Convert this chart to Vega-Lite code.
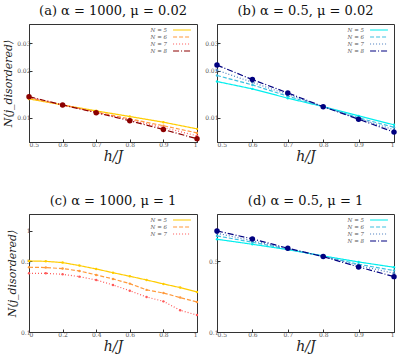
{
  "$schema": "https://vega.github.io/schema/vega-lite/v6.json",
  "padding": {"left": 2, "top": 4, "right": 2, "bottom": 2},
  "config": {
    "font": "DejaVu Serif",
    "view": {"stroke": "#333", "strokeWidth": 1},
    "axis": {"grid": false, "labelFont": "DejaVu Serif", "labelFontSize": 6, "labelColor": "#555", "labelPadding": 2, "labelOverlap": false, "tickSize": -3, "tickColor": "#333", "domainColor": "#333", "titleFont": "DejaVu Serif", "titleFontStyle": "italic", "titleFontWeight": "normal", "titleFontSize": 14, "titleColor": "#222", "format": "~g"},
    "axisX": {"titlePadding": 2},
    "axisY": {"titleFontSize": 11, "titlePadding": 3},
    "title": {"font": "DejaVu Serif", "fontSize": 13, "fontWeight": "normal", "color": "#111", "offset": 6},
    "legend": {"orient": "top-right", "offset": 3, "title": null, "labelFont": "DejaVu Serif", "labelFontStyle": "italic", "labelFontSize": 5.5, "labelColor": "#555", "symbolType": "M-4,0H4", "symbolSize": 20, "symbolStrokeWidth": 1.2, "rowPadding": 0, "padding": 0, "labelAlign": "right", "labelOffset": -18}
  },
  "datasets": {
    "a": [
      {"h": 0.5, "v": 0.01323, "N": "N = 5"}, {"h": 0.6, "v": 0.0121, "N": "N = 5"}, {"h": 0.7, "v": 0.01109, "N": "N = 5"}, {"h": 0.8, "v": 0.0102, "N": "N = 5"}, {"h": 0.9, "v": 0.00938, "N": "N = 5"}, {"h": 1.0, "v": 0.0085, "N": "N = 5"},
      {"h": 0.5, "v": 0.0134, "N": "N = 6"}, {"h": 0.6, "v": 0.0121, "N": "N = 6"}, {"h": 0.7, "v": 0.0109, "N": "N = 6"}, {"h": 0.8, "v": 0.00985, "N": "N = 6"}, {"h": 0.9, "v": 0.0089, "N": "N = 6"}, {"h": 1.0, "v": 0.008, "N": "N = 6"},
      {"h": 0.5, "v": 0.0136, "N": "N = 7"}, {"h": 0.6, "v": 0.0121, "N": "N = 7"}, {"h": 0.7, "v": 0.01085, "N": "N = 7"}, {"h": 0.8, "v": 0.0097, "N": "N = 7"}, {"h": 0.9, "v": 0.00867, "N": "N = 7"}, {"h": 1.0, "v": 0.00767, "N": "N = 7"},
      {"h": 0.5, "v": 0.01368, "N": "N = 8"}, {"h": 0.6, "v": 0.0121, "N": "N = 8"}, {"h": 0.7, "v": 0.0108, "N": "N = 8"}, {"h": 0.8, "v": 0.00957, "N": "N = 8"}, {"h": 0.9, "v": 0.00842, "N": "N = 8"}, {"h": 1.0, "v": 0.00734, "N": "N = 8"}
    ],
    "b": [
      {"h": 0.5, "v": 0.0171, "N": "N = 5"}, {"h": 0.6, "v": 0.01534, "N": "N = 5"}, {"h": 0.7, "v": 0.01337, "N": "N = 5"}, {"h": 0.8, "v": 0.0118, "N": "N = 5"}, {"h": 0.9, "v": 0.0103, "N": "N = 5"}, {"h": 1.0, "v": 0.00902, "N": "N = 5"},
      {"h": 0.5, "v": 0.0187, "N": "N = 6"}, {"h": 0.6, "v": 0.01627, "N": "N = 6"}, {"h": 0.7, "v": 0.01377, "N": "N = 6"}, {"h": 0.8, "v": 0.0118, "N": "N = 6"}, {"h": 0.9, "v": 0.01, "N": "N = 6"}, {"h": 1.0, "v": 0.0087, "N": "N = 6"},
      {"h": 0.5, "v": 0.0202, "N": "N = 7"}, {"h": 0.6, "v": 0.0169, "N": "N = 7"}, {"h": 0.7, "v": 0.0141, "N": "N = 7"}, {"h": 0.8, "v": 0.0118, "N": "N = 7"}, {"h": 0.9, "v": 0.0099, "N": "N = 7"}, {"h": 1.0, "v": 0.00838, "N": "N = 7"},
      {"h": 0.5, "v": 0.0218, "N": "N = 8"}, {"h": 0.6, "v": 0.0176, "N": "N = 8"}, {"h": 0.7, "v": 0.01445, "N": "N = 8"}, {"h": 0.8, "v": 0.0118, "N": "N = 8"}, {"h": 0.9, "v": 0.0098, "N": "N = 8"}, {"h": 1.0, "v": 0.0081, "N": "N = 8"}
    ],
    "c": [
      {"h": 0.0, "v": 0.505, "N": "N = 5"}, {"h": 0.1, "v": 0.5, "N": "N = 5"}, {"h": 0.2, "v": 0.486, "N": "N = 5"}, {"h": 0.3, "v": 0.454, "N": "N = 5"}, {"h": 0.4, "v": 0.42, "N": "N = 5"}, {"h": 0.5, "v": 0.386, "N": "N = 5"}, {"h": 0.6, "v": 0.356, "N": "N = 5"}, {"h": 0.7, "v": 0.327, "N": "N = 5"}, {"h": 0.8, "v": 0.299, "N": "N = 5"}, {"h": 0.9, "v": 0.275, "N": "N = 5"}, {"h": 1.0, "v": 0.249, "N": "N = 5"},
      {"h": 0.0, "v": 0.437, "N": "N = 6"}, {"h": 0.1, "v": 0.434, "N": "N = 6"}, {"h": 0.2, "v": 0.424, "N": "N = 6"}, {"h": 0.3, "v": 0.402, "N": "N = 6"}, {"h": 0.4, "v": 0.367, "N": "N = 6"}, {"h": 0.5, "v": 0.335, "N": "N = 6"}, {"h": 0.6, "v": 0.301, "N": "N = 6"}, {"h": 0.7, "v": 0.261, "N": "N = 6"}, {"h": 0.8, "v": 0.243, "N": "N = 6"}, {"h": 0.9, "v": 0.219, "N": "N = 6"}, {"h": 1.0, "v": 0.198, "N": "N = 6"},
      {"h": 0.0, "v": 0.381, "N": "N = 7"}, {"h": 0.1, "v": 0.381, "N": "N = 7"}, {"h": 0.2, "v": 0.372, "N": "N = 7"}, {"h": 0.3, "v": 0.353, "N": "N = 7"}, {"h": 0.4, "v": 0.327, "N": "N = 7"}, {"h": 0.5, "v": 0.292, "N": "N = 7"}, {"h": 0.6, "v": 0.256, "N": "N = 7"}, {"h": 0.7, "v": 0.222, "N": "N = 7"}, {"h": 0.8, "v": 0.201, "N": "N = 7"}, {"h": 0.9, "v": 0.164, "N": "N = 7"}, {"h": 1.0, "v": 0.147, "N": "N = 7"}
    ],
    "d": [
      {"h": 0.5, "v": 0.827, "N": "N = 5"}, {"h": 0.6, "v": 0.738, "N": "N = 5"}, {"h": 0.7, "v": 0.653, "N": "N = 5"}, {"h": 0.8, "v": 0.566, "N": "N = 5"}, {"h": 0.9, "v": 0.493, "N": "N = 5"}, {"h": 1.0, "v": 0.437, "N": "N = 5"},
      {"h": 0.5, "v": 0.892, "N": "N = 6"}, {"h": 0.6, "v": 0.773, "N": "N = 6"}, {"h": 0.7, "v": 0.66, "N": "N = 6"}, {"h": 0.8, "v": 0.562, "N": "N = 6"}, {"h": 0.9, "v": 0.468, "N": "N = 6"}, {"h": 1.0, "v": 0.405, "N": "N = 6"},
      {"h": 0.5, "v": 0.948, "N": "N = 7"}, {"h": 0.6, "v": 0.8, "N": "N = 7"}, {"h": 0.7, "v": 0.667, "N": "N = 7"}, {"h": 0.8, "v": 0.56, "N": "N = 7"}, {"h": 0.9, "v": 0.454, "N": "N = 7"}, {"h": 1.0, "v": 0.381, "N": "N = 7"},
      {"h": 0.5, "v": 1.0, "N": "N = 8"}, {"h": 0.6, "v": 0.834, "N": "N = 8"}, {"h": 0.7, "v": 0.674, "N": "N = 8"}, {"h": 0.8, "v": 0.557, "N": "N = 8"}, {"h": 0.9, "v": 0.44, "N": "N = 8"}, {"h": 1.0, "v": 0.353, "N": "N = 8"}
    ]
  },
  "columns": 2,
  "spacing": {"row": 30, "column": 3},
  "resolve": {"scale": {"color": "independent", "strokeDash": "independent"}},
  "concat": [
    {
      "width": 168, "height": 118,
      "title": "(a) α = 1000, μ = 0.02",
      "data": {"name": "a"},
      "encoding": {
        "x": {"field": "h", "type": "quantitative", "scale": {"domain": [0.5, 1]}, "axis": {"values": [0.5, 0.6, 0.7, 0.8, 0.9, 1], "title": "h/J"}},
        "y": {"field": "v", "type": "quantitative", "scale": {"type": "log", "domain": [0.007, 0.04]}, "axis": {"values": [0.01, 0.02, 0.03], "title": "N⟨j_disordered⟩"}},
        "color": {"field": "N", "type": "nominal", "scale": {"domain": ["N = 5", "N = 6", "N = 7", "N = 8"], "range": ["#ffcc00", "#ff9a3c", "#ff5a5a", "#8b0000"]}}
      },
      "layer": [
        {"mark": {"type": "line", "strokeWidth": 1.2},
         "encoding": {
           "strokeDash": {"field": "N", "type": "nominal", "scale": {"domain": ["N = 5", "N = 6", "N = 7", "N = 8"], "range": [[1, 0], [4, 2], [1, 2], [6, 2, 1, 2]]}}
         }},
        {"mark": {"type": "circle", "opacity": 1, "size": 6}, "encoding": {}},
        {"transform": [{"filter": "datum.N == 'N = 8'"}], "mark": {"type": "circle", "opacity": 1, "size": 30}, "encoding": {}}
      ]
    },
    {
      "width": 177, "height": 118,
      "title": "(b) α = 0.5, μ = 0.02",
      "data": {"name": "b"},
      "encoding": {
        "x": {"field": "h", "type": "quantitative", "scale": {"domain": [0.5, 1]}, "axis": {"values": [0.5, 0.6, 0.7, 0.8, 0.9, 1], "title": "h/J"}},
        "y": {"field": "v", "type": "quantitative", "scale": {"type": "log", "domain": [0.007, 0.04]}, "axis": {"values": [0.01, 0.02, 0.03], "title": null}},
        "color": {"field": "N", "type": "nominal", "scale": {"domain": ["N = 5", "N = 6", "N = 7", "N = 8"], "range": ["#00eeee", "#3cbfe0", "#4a7fbf", "#000080"]}}
      },
      "layer": [
        {"mark": {"type": "line", "strokeWidth": 1.2},
         "encoding": {
           "strokeDash": {"field": "N", "type": "nominal", "scale": {"domain": ["N = 5", "N = 6", "N = 7", "N = 8"], "range": [[1, 0], [4, 2], [1, 2], [6, 2, 1, 2]]}}
         }},
        {"mark": {"type": "circle", "opacity": 1, "size": 6}, "encoding": {}},
        {"transform": [{"filter": "datum.N == 'N = 8'"}], "mark": {"type": "circle", "opacity": 1, "size": 30}, "encoding": {}}
      ]
    },
    {
      "width": 168, "height": 118,
      "title": "(c) α = 1000, μ = 1",
      "data": {"name": "c"},
      "encoding": {
        "x": {"field": "h", "type": "quantitative", "scale": {"domain": [0, 1]}, "axis": {"values": [0, 0.2, 0.4, 0.6, 0.8, 1], "title": "h/J"}},
        "y": {"field": "v", "type": "quantitative", "scale": {"type": "log", "domain": [0.1, 1.47]}, "axis": {"values": [0.1, 0.5, 1], "title": "N⟨j_disordered⟩"}},
        "color": {"field": "N", "type": "nominal", "scale": {"domain": ["N = 5", "N = 6", "N = 7"], "range": ["#ffcc00", "#ff9a3c", "#ff5a5a"]}}
      },
      "layer": [
        {"mark": {"type": "line", "strokeWidth": 1.2},
         "encoding": {
           "strokeDash": {"field": "N", "type": "nominal", "scale": {"domain": ["N = 5", "N = 6", "N = 7"], "range": [[1, 0], [4, 2], [1, 2]]}}
         }},
        {"mark": {"type": "circle", "opacity": 1, "size": 6}, "encoding": {}}
      ]
    },
    {
      "width": 177, "height": 118,
      "title": "(d) α = 0.5, μ = 1",
      "data": {"name": "d"},
      "encoding": {
        "x": {"field": "h", "type": "quantitative", "scale": {"domain": [0.5, 1]}, "axis": {"values": [0.5, 0.6, 0.7, 0.8, 0.9, 1], "title": "h/J"}},
        "y": {"field": "v", "type": "quantitative", "scale": {"type": "log", "domain": [0.1, 1.47]}, "axis": {"values": [0.1, 0.5, 1], "title": null}},
        "color": {"field": "N", "type": "nominal", "scale": {"domain": ["N = 5", "N = 6", "N = 7", "N = 8"], "range": ["#00eeee", "#3cbfe0", "#4a7fbf", "#000080"]}}
      },
      "layer": [
        {"mark": {"type": "line", "strokeWidth": 1.2},
         "encoding": {
           "strokeDash": {"field": "N", "type": "nominal", "scale": {"domain": ["N = 5", "N = 6", "N = 7", "N = 8"], "range": [[1, 0], [4, 2], [1, 2], [6, 2, 1, 2]]}}
         }},
        {"mark": {"type": "circle", "opacity": 1, "size": 6}, "encoding": {}},
        {"transform": [{"filter": "datum.N == 'N = 8'"}], "mark": {"type": "circle", "opacity": 1, "size": 30}, "encoding": {}}
      ]
    }
  ]
}
